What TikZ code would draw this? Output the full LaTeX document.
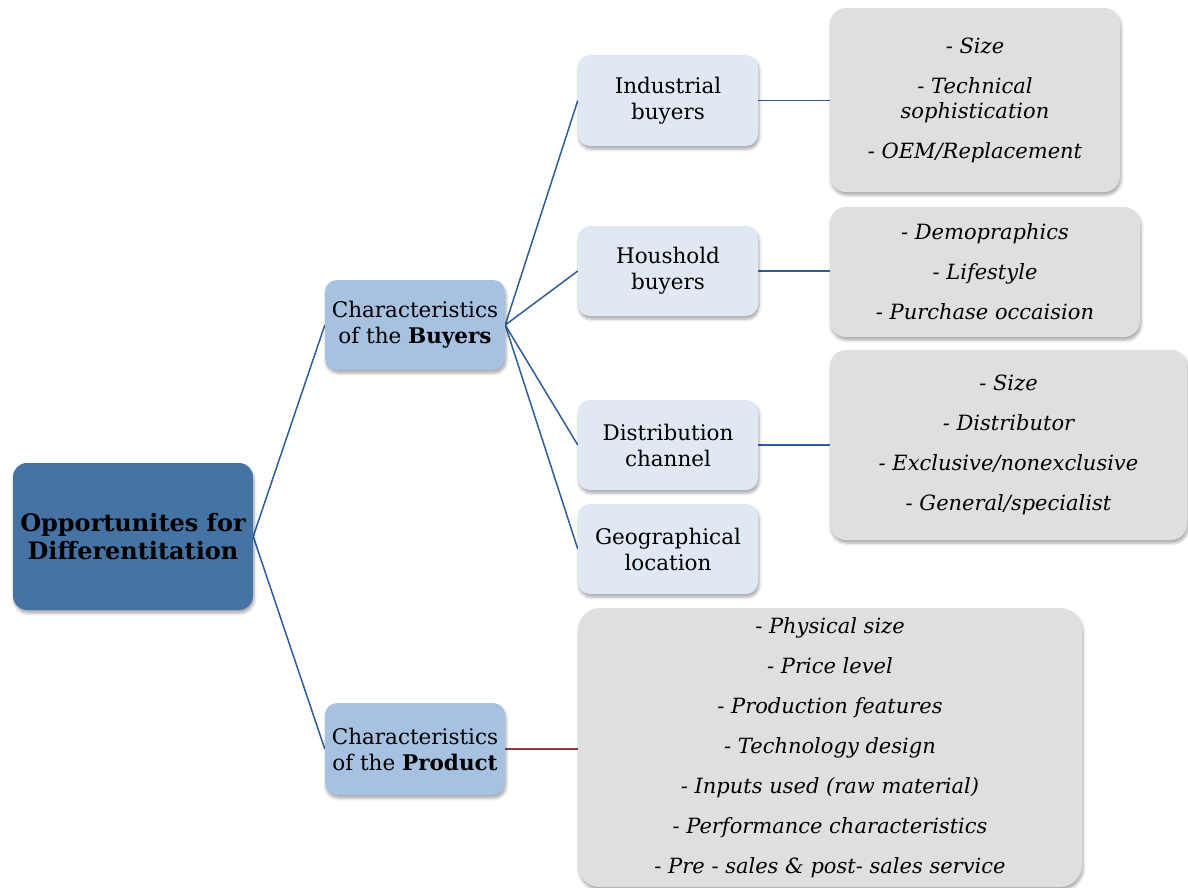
\documentclass[tikz,border=0pt]{standalone}
\usepackage{fontspec}
\setmainfont{DejaVu Serif}
\usetikzlibrary{shadows.blur,backgrounds}
\definecolor{rootblue}{RGB}{69,115,163}
\definecolor{midblue}{RGB}{167,193,224}
\definecolor{lightblue}{RGB}{224,232,243}
\definecolor{boxgray}{RGB}{223,223,223}
\definecolor{linkblue}{RGB}{46,92,150}
\definecolor{linkred}{RGB}{140,58,58}
\tikzset{
  base/.style={rectangle, rounded corners=12pt, align=center, inner sep=0pt,
    blur shadow={shadow xshift=1pt, shadow yshift=-3pt, shadow blur radius=3pt, shadow opacity=35}},
  rootbox/.style={base, fill=rootblue, rounded corners=14pt, minimum width=240pt, minimum height=147pt,
    font=\fontsize{24}{28}\selectfont\bfseries},
  midbox/.style={base, fill=midblue, minimum width=180pt, minimum height=90pt,
    font=\fontsize{21.5}{26}\selectfont},
  leafbox/.style={base, fill=lightblue, minimum width=180pt, minimum height=90pt,
    font=\fontsize{21.5}{26}\selectfont},
  graybox/.style={base, fill=boxgray, rounded corners=16pt,
    font=\fontsize{21}{25}\selectfont\itshape},
  link/.style={draw=linkblue, line width=1.5pt},
  redlink/.style={draw=linkred, line width=1.5pt}
}
\begin{document}
\begin{tikzpicture}[x=1pt,y=-1pt]
\useasboundingbox (0,0) rectangle (1188,888);
\node[rootbox] (root) at (133,536.5) {Opportunites for\\Differentitation};
\node[midbox] (buy) at (415,325) {Characteristics\\of the \textbf{Buyers}};
\node[midbox, minimum height=92pt] (prod) at (415,749) {Characteristics\\of the \textbf{Product}};
\node[leafbox, minimum height=91pt] (ind) at (668,100.5) {Industrial\\buyers};
\node[leafbox] (hou) at (668,271) {Houshold\\buyers};
\node[leafbox] (dis) at (668,445) {Distribution\\channel};
\node[leafbox] (geo) at (668,549) {Geographical\\location};
\node[graybox, minimum width=290pt, minimum height=184pt] (g1) at (975,100)
  {- Size\\[15pt]- Technical\\sophistication\\[15pt]- OEM/Replacement};
\node[graybox, minimum width=310pt, minimum height=130pt] (g2) at (985,272)
  {- Demopraphics\\[15pt]- Lifestyle\\[15pt]- Purchase occaision};
\node[graybox, minimum width=357pt, minimum height=190pt] (g3) at (1008.5,445)
  {- Size\\[15pt]- Distributor\\[15pt]- Exclusive/nonexclusive\\[15pt]- General/specialist};
\node[graybox, rounded corners=22pt, minimum width=504pt, minimum height=279pt] (g4) at (830,747.5)
  {- Physical size\\[15pt]- Price level\\[15pt]- Production features\\[15pt]- Technology design\\[15pt]- Inputs used (raw material)\\[15pt]- Performance characteristics\\[15pt]- Pre - sales \& post- sales service};
\begin{scope}[on background layer]
\draw[link] (root.east) -- (buy.west);
\draw[link] (root.east) -- (prod.west);
\draw[link] (buy.east) -- (ind.west);
\draw[link] (buy.east) -- (hou.west);
\draw[link] (buy.east) -- (dis.west);
\draw[link] (buy.east) -- (geo.west);
\draw[link] (ind.east) -- (ind.east -| g1.west);
\draw[link] (hou.east) -- (hou.east -| g2.west);
\draw[link] (dis.east) -- (dis.east -| g3.west);
\draw[redlink] (prod.east) -- (prod.east -| g4.west);
\end{scope}
\end{tikzpicture}
\end{document}
